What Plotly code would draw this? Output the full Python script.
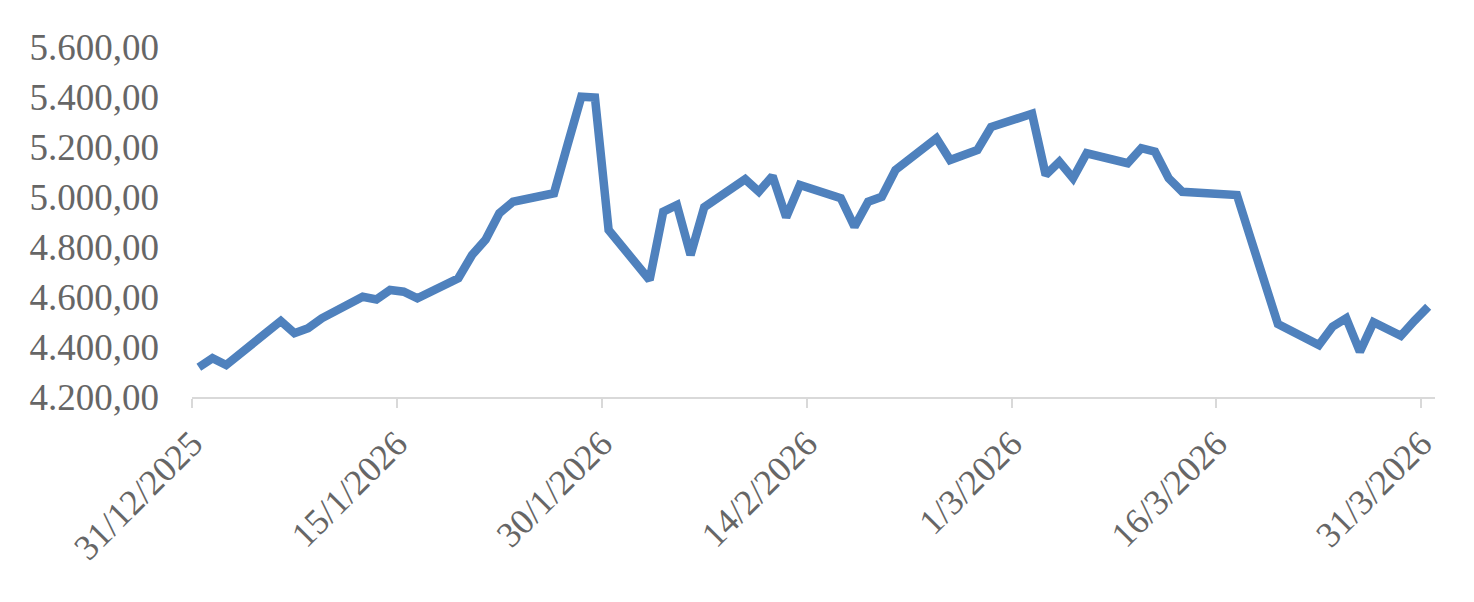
import pandas as pd
import plotly.graph_objects as go

dates = [
    "2025-12-31", "2026-01-01", "2026-01-02", "2026-01-05", "2026-01-06", "2026-01-07",
    "2026-01-08", "2026-01-09", "2026-01-12", "2026-01-13", "2026-01-14", "2026-01-15",
    "2026-01-16", "2026-01-19", "2026-01-20", "2026-01-21", "2026-01-22", "2026-01-23",
    "2026-01-26", "2026-01-27", "2026-01-28", "2026-01-29", "2026-01-30", "2026-02-02",
    "2026-02-03", "2026-02-04", "2026-02-05", "2026-02-06", "2026-02-09", "2026-02-10",
    "2026-02-11", "2026-02-12", "2026-02-13", "2026-02-16", "2026-02-17", "2026-02-18",
    "2026-02-19", "2026-02-20", "2026-02-23", "2026-02-24", "2026-02-25", "2026-02-26",
    "2026-02-27", "2026-03-02", "2026-03-03", "2026-03-04", "2026-03-05", "2026-03-06",
    "2026-03-09", "2026-03-10", "2026-03-11", "2026-03-12", "2026-03-13", "2026-03-16",
    "2026-03-17", "2026-03-18", "2026-03-19", "2026-03-20", "2026-03-23", "2026-03-24",
    "2026-03-25", "2026-03-26", "2026-03-27", "2026-03-29", "2026-03-30", "2026-03-31",
]
values = [
    4319, 4355, 4328, 4460, 4504, 4455,
    4475, 4515, 4601, 4590, 4628, 4621,
    4595, 4675, 4768, 4830, 4935, 4981,
    5015, 5210, 5401, 5398, 4868, 4668,
    4941, 4968, 4768, 4959, 5071, 5021,
    5084, 4919, 5048, 4995, 4881, 4981,
    5001, 5108, 5235, 5148, 5168, 5188,
    5280, 5333, 5088, 5141, 5075, 5175,
    5135, 5195, 5181, 5075, 5021, 5012,
    5008, 4835, 4665, 4492, 4408, 4481,
    4515, 4381, 4499, 4445, 4505, 4561,
]

tick_dates = ["2025-12-31", "2026-01-15", "2026-01-30", "2026-02-14",
              "2026-03-01", "2026-03-16", "2026-03-31"]
tick_labels = ["31/12/2025", "15/1/2026", "30/1/2026", "14/2/2026",
               "1/3/2026", "16/3/2026", "31/3/2026"]
y_ticks = [4200, 4400, 4600, 4800, 5000, 5200, 5400, 5600]

# points sit in the middle of each day (date axis, between tick marks)
x = pd.to_datetime(dates) + pd.Timedelta(hours=12)

fig = go.Figure()
fig.add_trace(go.Scatter(
    x=x, y=values, mode="lines",
    line=dict(color="#4F81BD", width=8.5),
    hoverinfo="skip", showlegend=False,
))

font_family = "Liberation Serif, Times New Roman, serif"
text_color = "#666666"
# page body has an 8px default margin, so the figure is drawn at (8, 8)
fig.update_layout(
    width=1466, height=594,
    paper_bgcolor="white", plot_bgcolor="white",
    margin=dict(l=184, r=39, t=39, b=205, autoexpand=False),
    separators=",.",
    font=dict(family=font_family, size=36, color=text_color),
)
fig.update_xaxes(
    type="date",
    range=["2025-12-31", "2026-04-01"],
    tickvals=pd.to_datetime(tick_dates), ticktext=tick_labels,
    tickangle=-45, automargin=False,
    showgrid=False, zeroline=False,
    showline=True, linecolor="#D9D9D9", linewidth=2,
    ticks="outside", ticklen=9, tickwidth=2, tickcolor="#D9D9D9",
    tickfont=dict(family=font_family, size=36, color=text_color),
)
fig.update_yaxes(
    range=[4200, 5600], automargin=False,
    tickvals=y_ticks, tickformat=",.2f",
    showgrid=False, zeroline=False, showline=False,
    ticks="", ticklabelstandoff=32,
    tickfont=dict(family=font_family, size=37, color=text_color),
)

fig.write_html("out.html")
